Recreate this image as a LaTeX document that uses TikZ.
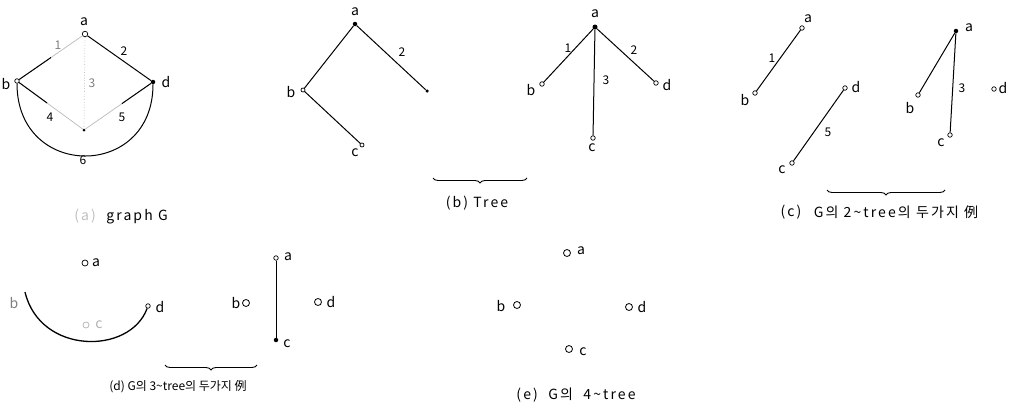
\documentclass[tikz,border=0pt]{standalone}
\usepackage{fontspec}
\setmainfont{Noto Sans CJK KR}
\newfontfamily\capfont[LetterSpace=15]{Noto Sans CJK KR}
\usetikzlibrary{calc,decorations.pathreplacing}
\begin{document}
\begin{tikzpicture}[x=1pt,y=-1pt,
 ov/.style={circle,draw,line width=0.7pt,inner sep=0pt,minimum size=4.5pt,fill=white},
 bigv/.style={circle,draw,line width=0.8pt,inner sep=0pt,minimum size=7pt,fill=white},
 fv/.style={circle,fill,inner sep=0pt,minimum size=4.5pt},
 lbl/.style={inner sep=0pt,font=\fontsize{14}{14}\selectfont},
 num/.style={inner sep=0pt,font=\fontsize{12}{12}\selectfont},
 captxt/.style={inner sep=0pt,font=\capfont\fontsize{14}{16}\selectfont},
 capsmall/.style={inner sep=0pt,font=\fontsize{12}{14}\selectfont},
 edge/.style={line width=1pt},
 faded/.style={line width=0.7pt,gray!55},
 brc/.style={decorate,decoration={brace,amplitude=5pt,mirror},line width=0.9pt}]
\useasboundingbox (0,0) rectangle (1010,407);

% ---------- (a) graph G ----------
\node[ov,minimum size=5.5pt] (Ga) at (85,34) {};
\node[ov] (Gb) at (17,81) {};
\node[fv] (Gd) at (153,82) {};
\node[fv,minimum size=3pt] (Gc) at (84,130) {};
\draw[edge] (Ga) -- (Gd);
\draw[faded] (Ga) -- (Gb);
\draw[edge] (Gb) -- ($(Gb)!0.5!(Ga)$);
\draw[faded,dotted] (Ga) -- (Gc);
\draw[faded] (Gb) -- (Gc);
\draw[edge] (Gb) -- ($(Gb)!0.45!(Gc)$);
\draw[faded] (Gd) -- (Gc);
\draw[edge] (Gd) -- ($(Gd)!0.45!(Gc)$);
\draw[edge] (Gb) .. controls (17,180) and (153,180) .. (Gd);
\node[lbl] (Lga) at (84,22) {a};
\node[lbl] (Lgb) at (6,84) {b};
\node[lbl] (Lgd) at (166,82) {d};
\node[num,gray] (Lg1) at (58,45) {1};
\node[num] (Lg2) at (124,51) {2};
\node[num,gray] (Lg3) at (92,83) {3};
\node[num] (Lg4) at (50,117) {4};
\node[num] (Lg5) at (122,117) {5};
\node[num] (Lg6) at (83,160) {6};
\node[captxt] (capa) at (121,217) {\textcolor{gray!50}{(a)}\ \ graph G};

% ---------- (b) Tree ----------
\node[fv] (Ta) at (355,24) {};
\node[ov,minimum size=4pt] (Tb) at (303,90) {};
\node[ov,minimum size=4pt] (Tc) at (362,145) {};
\node[fv,minimum size=3.5pt] (Te) at (427,91) {};
\draw[edge] (Ta) -- (Tb);
\draw[edge] (Tb) -- (Tc);
\draw[edge] (Ta) -- (Te);
\node[lbl] (Lta) at (355,12) {a};
\node[lbl] (Ltb) at (291,92) {b};
\node[lbl] (Ltc) at (355,153) {c};
\node[num] (Lt2) at (402,52) {2};

\node[fv,minimum size=5pt] (Ua) at (595,27) {};
\node[ov] (Ub) at (542,84) {};
\node[ov] (Ud) at (656,83) {};
\node[ov] (Uc) at (593,138) {};
\draw[edge] (Ua) -- (Ub);
\draw[edge] (Ua) -- (Ud);
\draw[edge] (Ua) -- (Uc);
\node[lbl] (Lua) at (595,14) {a};
\node[lbl] (Lub) at (531,90) {b};
\node[lbl] (Lud) at (667,85) {d};
\node[lbl] (Luc) at (592,148) {c};
\node[num] (Lu1) at (568,48) {1};
\node[num] (Lu2) at (634,50) {2};
\node[num] (Lu3) at (606,80) {3};

\coordinate (Bb1) at (433,178);
\coordinate (Bb2) at (527,178);
\draw[brc] (Bb1) -- (Bb2);
\node[captxt] (capb) at (477,203) {(b) Tree};

% ---------- (c) ----------
\node[ov] (Va) at (802,28) {};
\node[ov] (Vb) at (755,93) {};
\draw[edge] (Va) -- (Vb);
\node[lbl] (Lva) at (808,19) {a};
\node[lbl] (Lvb) at (745,100) {b};
\node[num] (Lv1) at (772,58) {1};
\node[ov] (Vd) at (845,88) {};
\node[ov] (Vc) at (792,163) {};
\draw[edge] (Vd) -- (Vc);
\node[lbl] (Lvd) at (856,87) {d};
\node[lbl] (Lvc) at (782,170) {c};
\node[num] (Lv5) at (828,132) {5};

\node[fv] (Wa) at (956,31) {};
\node[ov] (Wb) at (918,95) {};
\node[ov] (Wc) at (950,135) {};
\node[ov] (Wd) at (994,89) {};
\draw[edge] (Wa) -- (Wb);
\draw[edge] (Wa) -- (Wc);
\node[lbl] (Lwa) at (969,28) {a};
\node[lbl] (Lwb) at (910,108) {b};
\node[lbl] (Lwc) at (941,143) {c};
\node[num] (Lw3) at (962,88) {3};
\node[lbl] (Lwd) at (1003,88) {d};

\coordinate (Bc1) at (827,190);
\coordinate (Bc2) at (945,190);
\draw[brc] (Bc1) -- (Bc2);
\node[captxt] (capc1) at (791,212) {(c)};
\node[captxt] (capc2) at (896,212) {G의 2\textasciitilde tree의 두가지 例};

% ---------- (d) ----------
\node[ov,minimum size=6pt] (Xa) at (85,263) {};
\node[lbl] (Lxa) at (96,263) {a};
\coordinate (Xb) at (25,292);
\node[lbl,gray] (Lxb) at (14,303) {b};
\node[ov] (Xd) at (148,306) {};
\node[lbl] (Lxd) at (160,307) {d};
\node[ov,draw=gray!60,minimum size=6pt] (Xc) at (86,325) {};
\node[lbl,gray!60] (Lxc) at (99,325) {c};
\draw[edge,line width=1.3pt] (Xb) .. controls (40,355) and (130,355) .. (Xd);

\node[bigv] (Yb) at (246,303) {};
\node[lbl] (Lyb) at (236,303) {b};
\node[ov] (Ya) at (276,258) {};
\node[lbl] (Lya) at (288,257) {a};
\node[fv] (Yc) at (276,340) {};
\node[lbl] (Lyc) at (287,344) {c};
\draw[edge] (Ya) -- (Yc);
\node[bigv] (Yd) at (318,302) {};
\node[lbl] (Lyd) at (331,302) {d};

\coordinate (Bd1) at (165,365);
\coordinate (Bd2) at (257,365);
\draw[brc] (Bd1) -- (Bd2);
\node[capsmall] (capd) at (178,387) {(d) G의 3\textasciitilde tree의 두가지 例};

% ---------- (e) ----------
\node[bigv] (Za) at (567,253) {};
\node[lbl] (Lza) at (581,251) {a};
\node[bigv] (Zb) at (517,305) {};
\node[lbl] (Lzb) at (501,306) {b};
\node[bigv] (Zd) at (629,307) {};
\node[lbl] (Lzd) at (642,307) {d};
\node[bigv] (Zc) at (569,349) {};
\node[lbl] (Lzc) at (583,352) {c};
\node[captxt] (cape) at (576,395) {(e)\ \ G의\ \ 4\textasciitilde tree};
\end{tikzpicture}
\end{document}
